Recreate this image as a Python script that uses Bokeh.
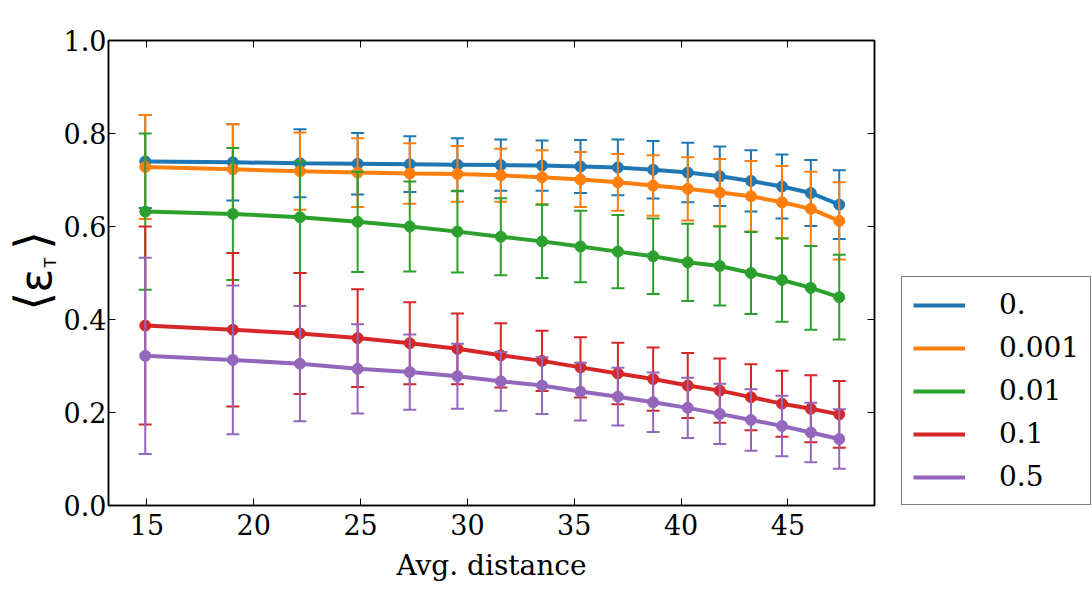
import math
from bokeh.plotting import figure
from bokeh.layouts import row
from bokeh.models import (Range1d, LinearAxis, Legend, LegendItem, Label,
                          PrintfTickFormatter, FixedTicker, ColumnDataSource)
from bokeh.embed import file_html
from bokeh.resources import INLINE

# ---- data ----
avg_distance = [14.92, 19.02, 22.16, 24.86, 27.30, 29.53, 31.56, 33.49, 35.29,
                37.04, 38.69, 40.31, 41.81, 43.27, 44.72, 46.07, 47.40]

labels = ["0.", "0.001", "0.01", "0.1", "0.5"]
colors = ["#1f77b4", "#ff7f0e", "#2ca02c", "#d62728", "#9467bd"]

mean_0 = [0.740, 0.738, 0.736, 0.735, 0.734, 0.733, 0.732, 0.731, 0.729,
          0.727, 0.722, 0.716, 0.708, 0.698, 0.686, 0.672, 0.647]
err_0 = [0.100, 0.082, 0.073, 0.066, 0.060, 0.057, 0.055, 0.054, 0.057,
         0.060, 0.062, 0.064, 0.064, 0.066, 0.069, 0.071, 0.074]

mean_0001 = [0.728, 0.723, 0.719, 0.716, 0.714, 0.713, 0.710, 0.706, 0.701,
             0.695, 0.688, 0.681, 0.673, 0.665, 0.652, 0.638, 0.612]
err_0001 = [0.112, 0.097, 0.083, 0.074, 0.065, 0.060, 0.057, 0.058, 0.059,
            0.061, 0.065, 0.068, 0.072, 0.076, 0.078, 0.080, 0.083]

mean_001 = [0.632, 0.627, 0.620, 0.610, 0.600, 0.589, 0.578, 0.568, 0.557,
            0.546, 0.536, 0.523, 0.515, 0.500, 0.485, 0.468, 0.448]
err_001 = [0.168, 0.142, 0.120, 0.108, 0.097, 0.088, 0.083, 0.079, 0.077,
           0.079, 0.081, 0.083, 0.085, 0.088, 0.090, 0.090, 0.091]

mean_01 = [0.387, 0.378, 0.370, 0.360, 0.349, 0.337, 0.323, 0.311, 0.297,
           0.284, 0.272, 0.258, 0.247, 0.233, 0.219, 0.208, 0.196]
err_01 = [0.213, 0.165, 0.130, 0.105, 0.088, 0.076, 0.069, 0.065, 0.065,
          0.066, 0.068, 0.070, 0.069, 0.071, 0.071, 0.072, 0.072]

mean_05 = [0.322, 0.313, 0.305, 0.294, 0.287, 0.278, 0.267, 0.258, 0.245,
           0.234, 0.222, 0.210, 0.197, 0.184, 0.171, 0.157, 0.143]
err_05 = [0.211, 0.160, 0.124, 0.096, 0.081, 0.070, 0.063, 0.061, 0.062,
          0.062, 0.064, 0.065, 0.065, 0.066, 0.065, 0.064, 0.064]

x_ticks = [15, 20, 25, 30, 35, 40, 45]
y_ticks = [0.0, 0.2, 0.4, 0.6, 0.8, 1.0]

means = [mean_0, mean_0001, mean_001, mean_01, mean_05]
errs = [err_0, err_0001, err_001, err_01, err_05]

FONT = "DejaVu Serif"
LABEL_W = 60
MAIN_LEFT = 107 - LABEL_W
MAIN_W = MAIN_LEFT + 767 + 8
LEG_W = 1092 - LABEL_W - MAIN_W

# ---- main plot ----
p = figure(width=MAIN_W, height=600, output_backend="svg", toolbar_location=None,
           x_range=Range1d(13.2, 49.05), y_range=Range1d(0, 1),
           min_border_left=MAIN_LEFT, min_border_right=8, min_border_top=40,
           min_border_bottom=95)
p.grid.visible = False
p.outline_line_color = "black"
p.outline_line_width = 1.5
p.background_fill_color = "white"
p.border_fill_color = "white"

bottom_ax = p.below[0]
left_ax = p.left[0]
bottom_ax.ticker = FixedTicker(ticks=x_ticks)
left_ax.ticker = FixedTicker(ticks=y_ticks)
left_ax.formatter = PrintfTickFormatter(format="%.1f")

top_ax = LinearAxis(ticker=FixedTicker(ticks=x_ticks),
                    major_label_overrides={t: "" for t in x_ticks},
                    major_label_standoff=0)
right_ax = LinearAxis(ticker=FixedTicker(ticks=y_ticks),
                      major_label_overrides={t: "" for t in y_ticks},
                      major_label_standoff=0)
p.add_layout(top_ax, "above")
p.add_layout(right_ax, "right")

for ax in [bottom_ax, left_ax, top_ax, right_ax]:
    ax.major_tick_in = 7
    ax.major_tick_out = 0
    ax.minor_tick_line_color = None
    ax.axis_line_color = "black"
    ax.axis_line_width = 1.5
    ax.major_tick_line_color = "black"
    ax.major_tick_line_width = 1
    ax.major_label_text_font = FONT
    ax.major_label_text_color = "black"
for ax in [bottom_ax, left_ax]:
    ax.major_label_text_font_size = "27px"
bottom_ax.major_label_standoff = 8
left_ax.major_label_standoff = 2

bottom_ax.axis_label = "Avg. distance"
bottom_ax.axis_label_text_font = FONT
bottom_ax.axis_label_text_font_size = "28px"
bottom_ax.axis_label_text_font_style = "normal"
bottom_ax.axis_label_text_color = "black"
bottom_ax.axis_label_standoff = 11

for col, m, e in zip(colors, means, errs):
    lo = [a - b for a, b in zip(m, e)]
    hi = [a + b for a, b in zip(m, e)]
    src = ColumnDataSource(dict(x=avg_distance, y=m, lo=lo, hi=hi))
    p.segment(x0="x", y0="lo", x1="x", y1="hi", source=src, line_color=col, line_width=2)
    p.scatter(x="x", y="lo", source=src, marker="dash", size=13, line_color=col, line_width=2)
    p.scatter(x="x", y="hi", source=src, marker="dash", size=13, line_color=col, line_width=2)
    p.line(x="x", y="y", source=src, line_color=col, line_width=4)
    p.scatter(x="x", y="y", source=src, marker="circle", size=11,
              fill_color=col, line_color=col)

# ---- legend panel (its lines lie outside its own view; only the legend shows) ----
lg = figure(width=LEG_W, height=600, output_backend="svg", toolbar_location=None,
            x_range=Range1d(0, 1), y_range=Range1d(0, 1),
            x_axis_location=None, y_axis_location=None, min_border=0)
lg.grid.visible = False
lg.outline_line_color = None
lg.border_fill_color = "white"
items = []
for lab, col, m in zip(labels, colors, means):
    r = lg.line(x=avg_distance, y=m, line_color=col, line_width=4)
    items.append(LegendItem(label=lab, renderers=[r]))
legend = Legend(items=items, location=(19, 0), orientation="vertical")
legend.label_text_font = FONT
legend.label_text_font_size = "28px"
legend.label_text_color = "black"
legend.label_height = 30
legend.glyph_height = 30
legend.glyph_width = 52
legend.label_standoff = 34
legend.spacing = 10
legend.padding = 11
legend.margin = 0
legend.border_line_color = "black"
legend.border_line_width = 1.5
legend.background_fill_alpha = 1
lg.add_layout(legend, "center")

# ---- y-axis label panel: <eps_T> (coordinates: y = 600 - pixel row) ----
q = figure(width=LABEL_W, height=600, output_backend="svg", toolbar_location=None,
           x_range=Range1d(0, LABEL_W), y_range=Range1d(95, 560),
           x_axis_location=None, y_axis_location=None, min_border=0)
q.grid.visible = False
q.outline_line_color = None
q.border_fill_color = "white"
common = dict(angle=math.pi / 2, text_align="center", text_baseline="middle",
              text_font="DejaVu Sans", text_color="black")
q.add_layout(Label(x=31, y=299, text="\u27e8", text_font_size="48px", **common))
q.add_layout(Label(x=34.5, y=320, text="\u03b5", text_font_size="44px", **common))
q.add_layout(Label(x=50, y=338, text="T", text_font_size="16px", **common))
q.add_layout(Label(x=31, y=360, text="\u27e9", text_font_size="48px", **common))

layout = row(q, p, lg, spacing=0)
open("out.html", "w").write(file_html(layout, INLINE))
